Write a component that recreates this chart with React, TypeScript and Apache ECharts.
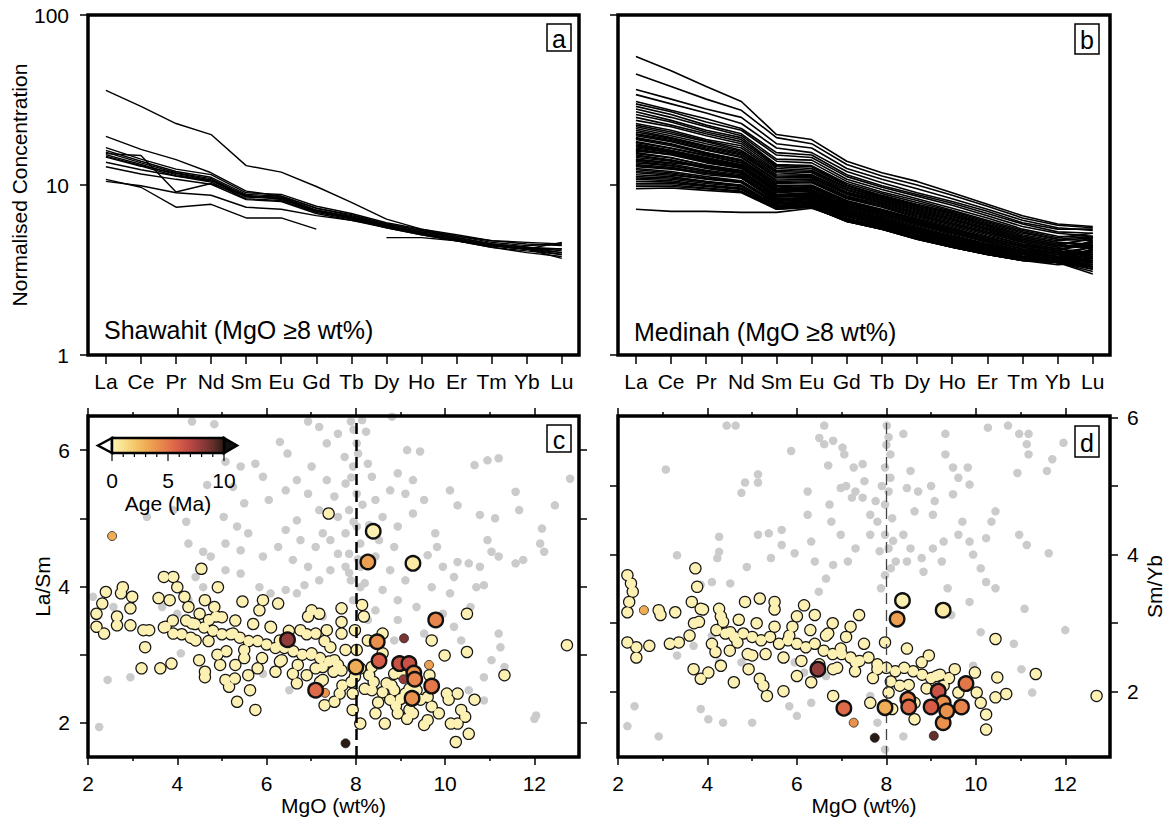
import React, { useEffect, useRef } from 'react';
import * as echarts from 'echarts';

const FONT = 'Liberation Sans';
const REE = ['La', 'Ce', 'Pr', 'Nd', 'Sm', 'Eu', 'Gd', 'Tb', 'Dy', 'Ho', 'Er', 'Tm', 'Yb', 'Lu'];
const MGO_MAJOR = [2, 4, 6, 8, 10, 12];
const MGO_MINOR = [3, 5, 7, 9, 11];
const LASM_TICKS = [2, 3, 4, 5, 6];
const LASM_LABELS = [2, 4, 6];
const SMYB_LEFT_TICKS = [2, 3, 4, 5];
const SMYB_RIGHT_TICKS = [2, 3, 4, 5, 6];
const SMYB_LABELS = [2, 4, 6];
const AGE_TICKS = [0, 1, 2, 3, 4, 5, 6, 7, 8, 9, 10];
const AGE_LABELS = [0, 5, 10];
const AGE_COLORS = ['#fdf4b8', '#f9e08e', '#f4c86a', '#efad55', '#ea924d', '#e4774a', '#d65c48', '#ba4744', '#913b3a', '#64302b', '#2a1a14'];
const MGO_CUT = 8;

// Panel a: Shawahit REE patterns (normalised)
const shawahit: (number | null)[][] = [
  [36, 29, 23, 19.8, 13, 11.9, 9.8, 7.9, 6.3, 5.5, 5.0, 4.7, 4.6, 4.5],
  [19.3, 16.2, 14.1, 11.8, 9.2, 8.6, 7.3, 6.6, 5.9, 5.4, 4.9, 4.5, 4.3, 4.1],
  [16.6, 14.2, 12.4, 11.5, 9.0, 8.8, 7.5, 6.8, 6.0, 5.5, 5.1, 4.7, 4.5, 4.4],
  [16.0, 13.8, 12.0, 11.1, 8.8, 8.6, 7.3, 6.7, 5.9, 5.4, 5.0, 4.6, 4.4, 4.5],
  [15.6, 13.5, 11.8, 10.9, 8.6, 8.4, 7.1, 6.5, 5.8, 5.3, 4.9, 4.5, 4.3, 4.2],
  [15.1, 13.2, 11.5, 10.6, 8.5, 8.3, 7.0, 6.4, 5.7, 5.2, 4.8, 4.4, 4.2, 4.0],
  [14.6, 12.9, 11.3, 10.4, 8.3, 8.1, 6.9, 6.3, 5.6, 5.1, 4.7, 4.3, 4.1, 3.9],
  [15.3, 14.9, 9.1, 10.2, 8.6, 8.5, 7.1, 6.5, 5.8, 5.2, 4.7, 4.3, 4.0, 3.8],
  [13.6, 12.3, 11.3, 10.6, 8.7, 8.2, 7.0, 6.4, 5.7, 5.2, 4.8, 4.4, 4.2, 3.7],
  [12.8, 11.6, 10.8, 10.1, 8.2, 8.0, 6.8, 6.2, 5.6, 5.1, 4.7, 4.4, 4.2, 4.2],
  [10.8, 9.7, 7.4, 7.7, 6.4, 6.4, 5.5, null, null, null, null, null, null, null],
  [10.5, 9.9, 9.0, 8.7, 7.4, 7.2, 6.6, 6.2, 5.7, 5.3, 4.9, 4.5, 4.3, 4.0],
  [null, null, null, null, null, null, null, null, 4.9, 4.9, 4.7, 4.4, 4.2, 3.9],
  [14.8, 13.0, 11.7, 10.7, 8.6, 8.4, 7.1, 6.4, 5.7, 5.2, 4.8, 4.4, 4.2, 4.6],
];

// Panel b: Medinah REE patterns (normalised)
const medinah: number[][] = [
  [57, 47, 38, 31, 19.8, 18.5, 13.8, 11.8, 10.5, 9.0, 7.7, 6.6, 5.9, 5.7],
  [45, 38, 32, 27.5, 19, 17.5, 13.2, 11.3, 10.0, 8.7, 7.5, 6.4, 5.8, 5.6],
  [36.5, 32, 28, 25, 17.5, 16.5, 12.5, 10.8, 9.5, 8.3, 7.2, 6.2, 5.6, 5.4],
  [34, 30, 26.5, 23, 16.5, 15.5, 12.0, 10.3, 9.0, 8.0, 7.0, 6.0, 5.5, 5.5],
  [31, 27.5, 24.5, 21.5, 15.5, 15, 11.5, 9.9, 8.8, 7.8, 6.8, 5.9, 5.3, 5.2],
  [30, 27, 23.5, 21, 15, 14.5, 11.2, 9.7, 8.6, 7.6, 6.6, 5.7, 5.2, 5.0],
  [29, 26, 22.5, 20, 14.2, 14, 10.8, 9.4, 8.3, 7.3, 6.4, 5.5, 5.0, 4.9],
  [28, 25, 22, 19.5, 13.8, 13.5, 10.5, 9.1, 8.1, 7.1, 6.2, 5.4, 4.9, 5.2],
  [27, 24, 21, 19, 13.2, 13, 10.2, 8.9, 7.9, 7.0, 6.1, 5.3, 4.8, 4.7],
  [25, 22.5, 20, 18, 12.8, 12.5, 9.9, 8.6, 7.6, 6.8, 5.9, 5.1, 4.7, 4.9],
  [23, 21, 18.5, 17, 12.2, 12, 9.6, 8.4, 7.4, 6.6, 5.8, 5.0, 4.6, 4.4],
  [22, 20, 18, 16, 11.8, 11.5, 9.3, 8.2, 7.2, 6.4, 5.6, 4.9, 4.5, 4.8],
  [21, 19, 17, 15.5, 11.3, 11.2, 9.0, 8.0, 7.0, 6.2, 5.5, 4.8, 4.4, 4.3],
  [20, 18.5, 16.5, 15, 11, 11, 8.8, 7.8, 6.8, 6.0, 5.3, 4.7, 4.3, 4.6],
  [19.5, 18, 16, 14.5, 10.5, 10.6, 8.5, 7.6, 6.6, 5.9, 5.2, 4.6, 4.2, 4.0],
  [19, 17.5, 15.5, 14, 10.2, 10.3, 8.3, 7.4, 6.4, 5.7, 5.0, 4.5, 4.2, 4.5],
  [18, 16.5, 15, 13.5, 9.9, 10, 8.1, 7.2, 6.3, 5.6, 4.9, 4.4, 4.1, 3.8],
  [17.5, 16, 14.5, 13.2, 9.6, 9.8, 7.9, 7.0, 6.1, 5.4, 4.8, 4.3, 4.0, 4.3],
  [17, 15.8, 14, 13, 9.4, 9.6, 7.7, 6.9, 6.0, 5.3, 4.7, 4.2, 3.9, 3.6],
  [16.5, 15.5, 14, 12.8, 9.2, 9.4, 7.6, 6.8, 5.9, 5.2, 4.6, 4.1, 3.9, 4.1],
  [16, 15, 13.5, 12.5, 9.0, 9.2, 7.4, 6.6, 5.8, 5.1, 4.5, 4.1, 3.8, 3.5],
  [15.5, 14.5, 13, 12.2, 8.8, 9.0, 7.3, 6.5, 5.7, 5.0, 4.5, 4.0, 3.8, 4.0],
  [15, 14, 12.8, 12, 8.6, 8.8, 7.1, 6.3, 5.5, 4.9, 4.4, 4.0, 3.7, 3.3],
  [14.5, 13.8, 12.5, 11.7, 8.5, 8.6, 7.0, 6.2, 5.4, 4.8, 4.3, 3.9, 3.7, 3.9],
  [14, 13.3, 12.2, 11.5, 8.3, 8.5, 6.9, 6.1, 5.3, 4.7, 4.3, 3.9, 3.6, 3.4],
  [13.5, 13, 12, 11.2, 8.2, 8.3, 6.8, 6.0, 5.3, 4.7, 4.2, 3.8, 3.6, 3.7],
  [13, 12.5, 11.5, 11, 8.0, 8.2, 6.7, 6.0, 5.2, 4.6, 4.2, 3.8, 3.6, 3.2],
  [12.5, 12, 11.2, 10.6, 7.9, 8.0, 6.6, 5.9, 5.1, 4.6, 4.1, 3.8, 3.6, 3.5],
  [12, 11.6, 10.8, 10.3, 7.7, 7.9, 6.5, 5.8, 5.1, 4.5, 4.1, 3.7, 3.5, 3.0],
  [11.5, 11.2, 10.5, 10, 7.6, 7.8, 6.4, 5.7, 5.0, 4.5, 4.0, 3.7, 3.5, 3.6],
  [11, 10.8, 10.2, 9.8, 7.5, 7.7, 6.3, 5.6, 4.9, 4.4, 4.0, 3.7, 3.5, 3.3],
  [10.5, 10.4, 9.9, 9.5, 7.4, 7.6, 6.2, 5.6, 4.9, 4.4, 4.0, 3.7, 3.5, 3.8],
  [10, 10, 9.6, 9.2, 7.3, 7.5, 6.1, 5.5, 4.8, 4.3, 3.9, 3.6, 3.5, 3.4],
  [9.5, 9.6, 9.3, 9.0, 7.2, 7.4, 6.1, 5.5, 4.8, 4.3, 3.9, 3.6, 3.5, 3.7],
  [7.2, 7.0, 7.0, 6.9, 6.9, 7.3, 6.2, 5.8, 5.0, 4.5, 4.1, 3.8, 3.6, 4.2],
  [18.5, 17, 15.2, 13.8, 10.0, 9.9, 8.0, 7.1, 6.2, 5.5, 4.9, 4.4, 4.1, 4.7],
  [15.8, 15.2, 13.7, 12.6, 9.3, 9.1, 7.5, 6.7, 5.9, 5.2, 4.7, 4.2, 4.0, 3.9],
  [14.2, 13.5, 12.8, 11.8, 8.7, 8.7, 7.2, 6.4, 5.6, 5.0, 4.5, 4.1, 3.8, 4.4],
  [12.8, 12.4, 11.8, 11.0, 8.1, 8.4, 6.9, 6.1, 5.4, 4.8, 4.3, 3.9, 3.7, 4.1],
  [11.8, 11.4, 10.9, 10.4, 7.8, 8.1, 6.6, 5.9, 5.2, 4.6, 4.2, 3.8, 3.6, 3.4],
  [24, 22, 19.5, 17.5, 12.5, 12.2, 9.7, 8.5, 7.5, 6.7, 5.8, 5.0, 4.6, 4.5],
  [26, 23.5, 20.5, 18.5, 13, 12.8, 10.0, 8.7, 7.7, 6.9, 6.0, 5.2, 4.8, 5.0],
  [16.8, 15.6, 14.2, 12.9, 9.5, 9.3, 7.6, 6.8, 6.0, 5.3, 4.7, 4.2, 4.0, 3.5],
  [13.8, 13.0, 12.0, 11.3, 8.4, 8.2, 6.8, 6.1, 5.4, 4.8, 4.3, 3.9, 3.7, 3.3],
  [10.8, 10.6, 10.0, 9.6, 7.4, 7.5, 6.3, 5.7, 5.0, 4.4, 4.0, 3.7, 3.5, 3.1],
  [22.5, 20.5, 18.2, 16.5, 12.0, 11.8, 9.4, 8.3, 7.3, 6.5, 5.7, 4.9, 4.5, 4.2],
  [21.5, 19.5, 17.5, 15.8, 11.5, 11.4, 9.1, 8.1, 7.1, 6.3, 5.5, 4.8, 4.4, 4.9],
  [20.5, 18.8, 16.8, 15.2, 11.1, 11.1, 8.9, 7.9, 6.9, 6.1, 5.4, 4.7, 4.3, 3.7],
  [19.8, 18.2, 16.2, 14.7, 10.7, 10.8, 8.6, 7.7, 6.7, 5.9, 5.2, 4.6, 4.2, 4.4],
  [18.8, 17.3, 15.4, 14.1, 10.3, 10.4, 8.4, 7.5, 6.5, 5.8, 5.1, 4.5, 4.1, 3.9],
  [17.8, 16.4, 14.8, 13.5, 9.8, 9.9, 8.0, 7.1, 6.2, 5.5, 4.9, 4.4, 4.1, 4.6],
  [17.2, 15.9, 14.3, 13.1, 9.5, 9.7, 7.8, 7.0, 6.1, 5.4, 4.8, 4.3, 4.0, 3.7],
  [16.2, 15.2, 13.8, 12.7, 9.1, 9.3, 7.5, 6.7, 5.9, 5.2, 4.6, 4.1, 3.9, 4.3],
  [15.3, 14.4, 13.1, 12.1, 8.8, 8.9, 7.2, 6.4, 5.6, 5.0, 4.4, 4.0, 3.8, 3.6],
  [14.8, 14.0, 12.7, 11.9, 8.6, 8.7, 7.1, 6.3, 5.5, 4.9, 4.4, 4.0, 3.7, 4.2],
  [13.2, 12.7, 11.7, 11.1, 8.1, 8.3, 6.8, 6.0, 5.3, 4.7, 4.2, 3.8, 3.6, 3.9],
  [12.3, 11.8, 11.0, 10.5, 7.8, 8.0, 6.6, 5.8, 5.1, 4.6, 4.1, 3.7, 3.5, 3.3],
  [11.2, 11.0, 10.4, 9.9, 7.5, 7.7, 6.3, 5.6, 5.0, 4.4, 4.0, 3.7, 3.5, 3.9],
  [10.2, 10.2, 9.8, 9.4, 7.3, 7.5, 6.2, 5.5, 4.9, 4.3, 3.9, 3.6, 3.5, 3.2],
  [9.8, 9.8, 9.5, 9.1, 7.2, 7.4, 6.1, 5.5, 4.8, 4.3, 3.9, 3.6, 3.4, 3.5],
];

// Panel c: La/Sm vs MgO
const greyC: number[][] = [
  [4.33, 6.42], [4.83, 6.38], [6.30, 6.12], [6.47, 5.95], [6.93, 6.42], [7.18, 6.34], [7.35, 6.10], [7.6, 6.24], [7.89, 6.42], [8.14, 6.44],
  [8.23, 6.27], [8.02, 6.10], [8.81, 6.49], [9.15, 6.0], [9.44, 5.98], [10.66, 5.78], [10.95, 5.85], [11.2, 5.88], [12.8, 5.58], [12.46, 5.19],
  [11.66, 5.12], [11.58, 5.39], [10.11, 5.41], [10.28, 5.19], [10.78, 5.05], [11.12, 5.0], [12.17, 4.85], [12.13, 4.63], [12.22, 4.51], [11.75, 4.39],
  [11.58, 4.34], [11.2, 4.44], [10.95, 4.68], [11.04, 4.51], [10.78, 4.29], [10.53, 4.34], [10.28, 4.36], [10.7, 3.99], [10.87, 4.02], [9.78, 4.78],
  [9.82, 4.58], [9.61, 4.46], [9.95, 4.29], [10.2, 4.14], [9.7, 3.99], [10.11, 3.9], [10.57, 3.7], [10.2, 3.41], [11.2, 3.31], [11.24, 3.11],
  [11.04, 2.92], [11.33, 2.82], [10.87, 2.67], [12.04, 2.11], [12.0, 2.06], [10.87, 2.33], [10.53, 2.48],
  [2.44, 2.63], [2.95, 2.67], [2.25, 1.94], [2.57, 3.70], [2.11, 3.85], [3.32, 5.02], [3.91, 5.12], [4.20, 4.95], [4.25, 4.63], [4.58, 4.51],
  [4.75, 4.44], [5.04, 5.02], [5.34, 4.88], [5.08, 4.63], [4.67, 5.49], [5.08, 5.83], [5.42, 5.76], [5.75, 5.80], [5.92, 5.61], [6.05, 5.27],
  [5.50, 5.22], [5.25, 5.46], [5.59, 4.78], [5.42, 4.53], [5.92, 4.44], [6.26, 4.58], [6.43, 4.83], [6.68, 4.97], [6.76, 4.68], [6.59, 4.39],
  [6.93, 4.29], [7.1, 4.58], [7.26, 4.78], [7.18, 5.12], [6.93, 5.36], [6.68, 5.56], [6.43, 5.41], [7.01, 5.76], [7.35, 5.56], [7.52, 5.32],
  [7.60, 5.02], [7.43, 4.68], [7.60, 4.48], [7.77, 4.29], [7.43, 4.24], [7.18, 4.09], [6.85, 4.02], [6.68, 3.90], [6.43, 3.95], [6.09, 3.90],
  [5.84, 3.99], [7.94, 5.76], [7.77, 5.51], [8.02, 5.36], [7.85, 5.12], [8.02, 4.88], [7.77, 4.78], [8.1, 4.63], [7.85, 4.48], [8.1, 4.29],
  [7.89, 4.09], [8.1, 3.99], [7.94, 3.8], [8.27, 5.80], [8.36, 5.61], [8.44, 5.27], [8.77, 5.41], [8.94, 5.66], [9.11, 5.36], [9.28, 5.56],
  [8.60, 5.02], [8.94, 4.88], [9.28, 5.07], [9.53, 5.27], [8.52, 4.68], [8.86, 4.58], [8.44, 4.44], [8.77, 4.24], [9.11, 4.09], [9.28, 4.29],
  [8.6, 3.95], [8.94, 3.8], [9.36, 3.70], [8.44, 3.65], [9.95, 3.60], [8.94, 3.51], [8.27, 3.51], [9.53, 3.31], [8.86, 3.21], [10.36, 3.21],
  [4.58, 3.99], [4.25, 3.80], [4.0, 3.60], [3.66, 3.70], [5.42, 4.19], [5.08, 4.24], [4.41, 4.14], [5.92, 2.72], [6.51, 2.48], [7.26, 3.56],
  [4.08, 3.02], [7.95, 6.3], [8.05, 5.95], [7.9, 5.6], [8.15, 5.2], [7.95, 4.95], [8.05, 4.4], [7.85, 4.2], [8.2, 4.05], [7.75, 5.9], [8.3, 4.9],
];

const yellowC: number[][] = [
  [2.40, 3.92], [2.32, 3.75], [2.19, 3.60], [2.19, 3.41], [2.36, 3.31], [2.65, 3.56], [2.65, 3.43], [2.74, 3.90], [2.78, 3.99], [2.99, 3.85],
  [2.95, 3.68], [2.95, 3.43], [3.24, 3.36], [3.28, 3.11], [3.20, 2.80], [3.37, 3.36], [3.58, 3.83], [3.62, 2.80], [3.70, 4.14], [3.87, 2.87],
  [3.91, 4.14], [4.0, 3.99], [3.83, 3.80], [3.74, 3.41], [3.91, 3.31], [4.16, 3.85], [4.25, 3.70], [4.33, 3.46], [4.41, 3.21], [4.49, 2.92],
  [4.54, 4.26], [4.62, 3.80], [4.71, 3.51], [4.62, 2.75], [4.62, 2.67], [4.91, 3.99], [4.83, 3.70], [4.87, 3.56], [4.96, 2.85], [5.08, 2.63],
  [5.16, 2.53], [5.29, 2.65], [5.34, 2.31], [5.46, 3.78], [5.25, 3.31], [5.50, 3.07], [5.59, 2.70], [5.63, 2.48], [5.75, 2.19], [5.84, 3.65],
  [5.92, 3.80], [6.09, 3.41], [6.26, 3.75], [6.30, 3.21], [6.34, 2.92], [6.59, 2.72], [6.68, 2.58], [6.76, 3.36], [6.93, 3.56], [7.01, 3.65],
  [7.18, 3.60], [7.10, 3.31], [7.01, 3.02], [7.26, 2.82], [7.26, 2.63], [7.35, 3.36], [7.43, 3.11], [7.52, 2.92], [7.30, 2.26], [7.52, 2.31],
  [7.68, 3.68], [7.68, 3.48], [7.68, 3.31], [7.77, 3.07], [7.68, 2.77], [7.64, 2.43], [7.93, 2.19], [7.98, 3.36], [8.02, 3.07], [7.98, 2.68],
  [7.93, 2.43], [8.14, 3.73], [8.18, 3.56], [8.10, 1.99], [8.27, 3.21], [8.36, 2.82], [8.36, 2.48], [8.44, 2.14], [8.60, 3.31], [8.60, 3.02],
  [8.69, 2.58], [8.77, 2.34], [8.65, 1.99], [8.86, 2.72], [8.86, 2.48], [8.94, 2.14], [9.02, 2.72], [9.11, 2.43], [9.20, 2.19], [9.15, 2.06],
  [9.28, 2.14], [9.36, 2.48], [9.45, 2.34], [9.53, 1.97], [9.61, 2.04], [9.61, 2.38], [9.65, 2.70], [9.70, 3.21], [9.70, 2.24], [9.86, 2.14],
  [9.99, 2.99], [10.04, 2.43], [10.08, 2.34], [10.13, 1.99], [10.24, 1.72], [10.28, 1.99], [10.28, 2.43], [10.36, 2.19], [10.45, 2.09], [10.49, 3.04],
  [10.49, 3.60], [10.53, 1.84], [10.66, 2.34], [11.33, 2.70], [12.73, 3.14], [7.39, 5.07],
  [4.2, 3.5], [4.4, 3.45], [4.6, 3.4], [4.8, 3.35], [5.0, 3.3], [5.2, 3.3], [5.4, 3.25], [5.6, 3.2], [5.8, 3.2], [6.0, 3.15],
  [6.2, 3.1], [6.4, 3.1], [6.6, 3.05], [6.8, 3.0], [7.0, 3.0], [7.2, 2.95], [7.4, 2.9], [7.6, 2.85], [4.3, 3.25], [4.5, 3.6],
  [4.7, 3.2], [5.0, 3.55], [5.1, 3.05], [5.3, 3.5], [5.5, 2.95], [5.7, 3.45], [5.9, 2.95], [6.1, 3.4], [6.3, 2.9], [6.5, 3.35],
  [6.7, 2.85], [6.9, 3.3], [7.1, 2.8], [7.3, 3.2], [7.5, 2.75], [4.1, 3.3], [3.9, 3.5], [3.7, 3.4], [4.9, 3.0], [5.3, 2.85],
  [5.8, 2.8], [6.2, 2.75], [6.9, 2.7], [7.2, 2.6], [8.2, 2.5], [8.4, 2.6], [8.6, 2.45], [8.8, 2.55], [9.0, 2.35], [8.5, 2.3],
  [8.9, 2.25], [9.2, 2.5], [8.3, 2.7], [8.1, 2.8], [7.9, 2.6], [7.7, 2.55],
];

// [MgO, La/Sm, age Ma]
const agedLargeC: number[][] = [
  [8.39, 4.81, 0.2], [8.27, 4.36, 3.5], [9.28, 4.34, 0.5], [9.79, 3.51, 4.5], [6.47, 3.22, 8], [8.48, 3.19, 4], [8.52, 2.91, 6],
  [8.98, 2.87, 6.5], [9.19, 2.87, 6.5], [9.30, 2.73, 4], [9.32, 2.64, 4.5], [8.0, 2.82, 3], [7.10, 2.48, 5.5], [9.70, 2.54, 5], [9.26, 2.36, 4],
];
const agedSmallC: number[][] = [
  [2.54, 4.74, 3], [9.08, 3.24, 8.5], [9.64, 2.85, 3.5], [9.07, 2.64, 8], [7.31, 2.44, 4], [7.77, 1.70, 10],
];

// Panel d: Sm/Yb vs MgO
const greyD: number[][] = [
  [4.43, 5.88], [4.63, 5.88], [3.07, 5.24], [5.13, 5.17], [5.13, 5.05], [4.84, 5.05], [4.76, 4.90], [4.26, 4.26], [4.10, 3.60], [4.26, 4.04],
  [3.32, 3.99], [3.85, 3.56], [4.22, 3.95], [4.51, 3.58], [4.88, 3.82], [5.13, 4.29], [5.37, 4.31], [5.66, 4.36], [5.42, 3.95], [5.66, 4.14],
  [5.87, 5.51], [6.24, 4.92], [6.24, 4.58], [6.32, 4.19], [5.95, 4.02], [6.40, 3.90], [6.61, 5.88], [6.61, 5.61], [6.81, 5.66], [7.02, 5.56],
  [7.06, 5.46], [7.27, 5.27], [7.47, 5.32], [7.51, 5.07], [7.31, 4.92], [7.23, 4.83], [7.47, 4.83], [7.76, 4.78], [7.64, 4.58], [7.80, 4.48],
  [7.64, 4.29], [7.31, 4.09], [7.14, 3.90], [6.81, 3.85], [6.65, 3.65], [6.49, 3.46], [6.98, 4.97], [6.73, 4.73], [6.77, 4.48], [6.98, 4.29],
  [8.01, 5.88], [8.05, 5.71], [8.09, 5.46], [7.97, 5.27], [8.09, 5.12], [8.05, 4.92], [7.97, 4.73], [8.13, 4.53], [7.97, 4.29], [8.05, 4.09],
  [8.21, 3.90], [7.97, 3.70], [7.88, 3.51], [8.38, 5.76], [8.54, 5.22], [8.46, 4.97], [8.71, 4.92], [8.63, 4.63], [8.38, 4.29], [8.54, 4.09],
  [8.46, 3.90], [8.79, 3.95], [8.83, 3.75], [9.00, 5.00], [9.08, 4.78], [9.04, 4.58], [9.28, 4.19], [9.04, 4.09], [9.24, 3.90], [9.37, 3.51],
  [9.45, 3.12], [9.32, 5.76], [9.32, 5.46], [9.49, 5.27], [9.49, 4.88], [9.61, 5.12], [9.82, 5.27], [9.86, 5.02], [9.70, 4.48], [9.61, 4.29],
  [9.86, 4.19], [9.94, 4.00], [10.11, 3.80], [10.23, 4.24], [10.44, 4.63], [10.35, 4.48], [10.27, 5.85], [10.72, 5.88], [10.97, 5.76], [11.14, 5.61],
  [11.18, 5.46], [10.93, 5.19], [11.59, 5.22], [11.71, 5.39], [11.18, 5.76], [11.96, 5.63], [10.97, 4.29], [11.14, 4.14], [11.63, 4.02], [11.09, 3.21],
  [10.85, 2.70], [11.02, 2.33], [11.26, 1.99], [12.0, 2.90], [10.44, 3.51], [10.23, 3.60], [9.86, 3.31], [10.11, 2.87], [9.94, 2.38], [2.21, 1.50],
  [2.37, 1.79], [2.91, 1.35], [4.02, 1.60], [3.85, 1.75], [5.0, 1.55], [4.35, 1.55], [5.33, 1.94], [5.83, 1.79], [6.0, 1.65], [6.32, 1.84],
  [5.95, 2.43], [6.16, 2.28], [3.32, 2.53], [3.69, 2.67], [4.10, 2.82], [4.26, 2.43], [4.76, 2.43], [6.65, 2.23], [7.80, 1.55], [7.97, 1.16],
  [7.64, 1.94], [8.38, 1.35], [8.0, 5.6], [7.9, 5.0], [8.15, 4.2], [7.85, 4.05], [8.1, 3.8], [6.5, 5.7], [6.7, 5.3], [7.1, 5.0],
];

const yellowD: number[][] = [
  [2.21, 3.70], [2.29, 3.58], [2.33, 3.46], [2.25, 3.31], [2.21, 3.16], [2.21, 2.72], [2.41, 2.65], [2.70, 2.67], [2.41, 2.50], [2.91, 3.19],
  [2.95, 3.12], [3.28, 3.16], [3.16, 2.70], [3.36, 2.72], [3.60, 2.82], [3.73, 3.80], [3.77, 3.53], [3.65, 3.31], [3.85, 3.21], [3.81, 3.02],
  [3.69, 2.33], [3.85, 2.19], [4.02, 2.28], [4.18, 2.58], [4.30, 2.38], [4.59, 2.14], [4.26, 3.21], [4.35, 3.02], [4.51, 2.87], [4.67, 2.72],
  [4.84, 3.31], [5.0, 2.53], [4.92, 2.33], [5.17, 3.36], [5.17, 2.19], [5.25, 2.09], [5.33, 1.94], [5.50, 3.31], [5.70, 2.01], [5.83, 2.82],
  [6.0, 2.23], [6.32, 2.14], [6.16, 3.26], [6.40, 3.12], [6.65, 2.82], [6.81, 1.94], [6.98, 2.63], [7.39, 3.12], [7.31, 2.43], [7.64, 1.84],
  [7.80, 2.33], [7.97, 2.72], [8.05, 1.99], [8.13, 1.75], [8.30, 2.09], [8.46, 2.63], [8.63, 1.60], [8.79, 2.43], [8.95, 2.53], [9.12, 2.23],
  [9.28, 2.09], [9.53, 2.33], [9.61, 1.99], [9.98, 2.28], [10.02, 1.99], [10.11, 1.84], [10.23, 1.67], [10.23, 1.45], [10.44, 2.77], [10.48, 2.21],
  [10.44, 1.92], [10.68, 1.97], [11.34, 2.26], [12.70, 1.94], [8.63, 1.84], [6.81, 2.33],
  [4.2, 2.9], [4.4, 2.85], [4.6, 2.8], [4.8, 2.85], [5.0, 2.8], [5.2, 2.75], [5.4, 2.8], [5.6, 2.7], [5.8, 2.75], [6.0, 2.7],
  [6.2, 2.65], [6.4, 2.7], [6.6, 2.6], [6.8, 2.55], [7.0, 2.55], [7.2, 2.5], [7.4, 2.45], [7.6, 2.5], [7.8, 2.4], [8.0, 2.35],
  [8.2, 2.3], [8.4, 2.35], [8.6, 2.3], [8.8, 2.25], [9.0, 2.2], [9.2, 2.25], [9.4, 2.2], [4.3, 3.1], [4.7, 3.05], [5.1, 3.0],
  [5.5, 2.95], [5.9, 2.95], [6.3, 2.9], [6.7, 2.85], [7.1, 2.8], [7.5, 2.7], [4.5, 2.6], [4.9, 2.55], [5.3, 2.55], [5.7, 2.5],
  [6.1, 2.45], [6.5, 2.4], [6.9, 2.35], [7.3, 2.3], [7.7, 2.2], [8.1, 2.15], [8.5, 2.1], [8.9, 2.05], [3.9, 3.2], [3.7, 3.0],
  [4.1, 2.7], [5.5, 3.2], [6.0, 3.1], [6.8, 3.0], [7.2, 2.95],
];

// [MgO, Sm/Yb, age Ma]
const agedLargeD: number[][] = [
  [8.36, 3.33, 0.2], [9.27, 3.19, 0.5], [8.24, 3.06, 3.5], [6.47, 2.33, 8], [9.78, 2.12, 5], [9.16, 2.01, 6.5], [9.27, 1.84, 4],
  [8.48, 1.89, 4.5], [8.50, 1.78, 5.5], [9.00, 1.78, 6], [9.68, 1.78, 4.5], [7.97, 1.77, 3], [7.05, 1.76, 5.5], [9.27, 1.55, 4], [9.35, 1.72, 4],
];
const agedSmallD: number[][] = [
  [2.58, 3.19, 3], [7.27, 1.55, 4], [7.74, 1.33, 10], [9.06, 1.36, 9],
];

const BLACK = '#000';
const TICK = { color: BLACK, width: 1.5 };
const FS = 21;
const LABEL = { color: BLACK, fontSize: FS, fontFamily: FONT };
const NO_LINE = { show: false, onZero: false };

function toLine(vals: (number | null)[]) {
  const out: number[][] = [];
  vals.forEach((v, i) => { if (v != null) out.push([i, v]); });
  return out;
}

function reeX(gridIndex: number) {
  const idx = REE.map((_, i) => i);
  return {
    gridIndex, type: 'value', min: -0.51, max: 13.49, position: 'bottom',
    axisLine: NO_LINE, splitLine: { show: false },
    axisTick: { show: true, customValues: idx, length: 9, lineStyle: TICK },
    axisLabel: { ...LABEL, customValues: idx, margin: 16, formatter: (v: number) => REE[Math.round(v)] ?? '' },
  };
}
function logY(gridIndex: number, labels: boolean, name?: string) {
  return {
    gridIndex, type: 'log', logBase: 10, min: 1, max: 100, position: 'left',
    axisLine: NO_LINE, splitLine: { show: false }, minorTick: { show: false },
    axisTick: { show: true, length: 8, lineStyle: TICK },
    axisLabel: { ...LABEL, show: labels, margin: 19 },
    name, nameLocation: 'middle', nameGap: 57,
    nameTextStyle: { color: BLACK, fontSize: FS, fontFamily: FONT },
  };
}
function mgoX(gridIndex: number, position: string, ticks: number[], len: number, labels: boolean) {
  return {
    gridIndex, type: 'value', min: 2, max: 13, position,
    axisLine: NO_LINE, splitLine: { show: false },
    axisTick: { show: true, customValues: ticks, length: len, lineStyle: TICK },
    axisLabel: { ...LABEL, show: labels, customValues: ticks, margin: 16 },
    name: labels ? 'MgO (wt%)' : undefined, nameLocation: 'middle', nameGap: 38,
    nameTextStyle: { color: BLACK, fontSize: FS, fontFamily: FONT },
  };
}
function ratioY(gridIndex: number, position: string, min: number, max: number, ticks: number[], labels: number[] | null, name?: string, nameGap = 30, margin = 15) {
  return {
    gridIndex, type: 'value', min, max, position,
    axisLine: NO_LINE, splitLine: { show: false },
    axisTick: { show: true, customValues: ticks, length: 8, lineStyle: TICK },
    axisLabel: { ...LABEL, show: !!labels, customValues: labels ?? ticks, margin },
    name, nameLocation: 'middle', nameGap,
    nameTextStyle: { color: BLACK, fontSize: FS, fontFamily: FONT },
  };
}

const FRAMES = [
  { x: 88, y: 15, w: 491, h: 340 },
  { x: 618, y: 15, w: 492, h: 340 },
  { x: 88, y: 416, w: 491, h: 341 },
  { x: 618, y: 416, w: 492, h: 341 },
];
const PANEL_TAGS = [
  { t: 'a', x: 547, y: 24, w: 24, h: 27 },
  { t: 'b', x: 1075, y: 24, w: 24, h: 30 },
  { t: 'c', x: 547, y: 425, w: 24, h: 27 },
  { t: 'd', x: 1075, y: 426, w: 24, h: 31 },
];

function buildOption() {
  const series: any[] = [];
  shawahit.forEach((row) => series.push({
    type: 'line', xAxisIndex: 0, yAxisIndex: 0, data: toLine(row), symbol: 'none', silent: true,
    lineStyle: { color: BLACK, width: 1.4 }, z: 2,
  }));
  medinah.forEach((row) => series.push({
    type: 'line', xAxisIndex: 1, yAxisIndex: 1, data: toLine(row), symbol: 'none', silent: true,
    lineStyle: { color: BLACK, width: 1.6 }, z: 2,
  }));

  const colored: number[] = [];
  const scatterPanel = (xi: number, yi: number, grey: number[][], yellow: number[][], large: number[][], small: number[][], dash: any) => {
    series.push({
      type: 'scatter', xAxisIndex: xi, yAxisIndex: yi, data: grey, symbolSize: 8.5, silent: true, z: 2,
      itemStyle: { color: '#cbcbcb', opacity: 1 },
      markLine: { silent: true, symbol: ['none', 'none'], label: { show: false }, lineStyle: dash, data: [{ xAxis: MGO_CUT }] },
    });
    series.push({ type: 'scatter', xAxisIndex: xi, yAxisIndex: yi, data: yellow, symbolSize: 12.5, silent: true, z: 3, itemStyle: { color: '#151515', opacity: 1 } });
    series.push({ type: 'scatter', xAxisIndex: xi, yAxisIndex: yi, data: yellow, symbolSize: 10, silent: true, z: 4, itemStyle: { color: '#fcf0b2', opacity: 1 } });
    colored.push(series.length);
    series.push({ type: 'scatter', xAxisIndex: xi, yAxisIndex: yi, data: small, symbolSize: 9, silent: true, z: 5, itemStyle: { borderColor: '#222', borderWidth: 0.8, opacity: 1 } });
    colored.push(series.length);
    series.push({ type: 'scatter', xAxisIndex: xi, yAxisIndex: yi, data: large, symbolSize: 14.5, silent: true, z: 6, itemStyle: { borderColor: '#111', borderWidth: 2.4, opacity: 1 } });
  };
  scatterPanel(2, 2, greyC, yellowC, agedLargeC, agedSmallC, { color: BLACK, width: 2.5, type: [11, 6] });
  scatterPanel(6, 4, greyD, yellowD, agedLargeD, agedSmallD, { color: '#444', width: 1.3, type: [11, 6] });

  const graphic: any[] = [];
  FRAMES.forEach((f) => graphic.push({
    type: 'rect', silent: true, z: 100, shape: { x: f.x, y: f.y, width: f.w, height: f.h },
    style: { fill: 'none', stroke: BLACK, lineWidth: 3.5 },
  }));
  PANEL_TAGS.forEach((p) => {
    graphic.push({ type: 'rect', silent: true, z: 101, shape: { x: p.x, y: p.y, width: p.w, height: p.h }, style: { fill: '#fff', stroke: BLACK, lineWidth: 1.5 } });
    graphic.push({ type: 'text', silent: true, z: 102, x: p.x + p.w / 2, y: p.y + p.h / 2 + 1, style: { text: p.t, fontSize: 25, fontFamily: FONT, fill: BLACK, align: 'center', verticalAlign: 'middle' } });
  });
  graphic.push({ type: 'text', silent: true, z: 102, x: 104, y: 330, style: { text: 'Shawahit (MgO ≥8 wt%)', fontSize: 25, fontFamily: FONT, fill: BLACK, align: 'left', verticalAlign: 'middle' } });
  graphic.push({ type: 'text', silent: true, z: 102, x: 634, y: 332, style: { text: 'Medinah (MgO ≥8 wt%)', fontSize: 25, fontFamily: FONT, fill: BLACK, align: 'left', verticalAlign: 'middle' } });

  // colour bar (Age, Ma)
  const cbX = 112, cbW = 112, cbY = 438, cbH = 15;
  const stops = AGE_COLORS.map((c, i) => ({ offset: i / (AGE_COLORS.length - 1), color: c }));
  graphic.push({ type: 'polygon', silent: true, z: 110, shape: { points: [[cbX - 14, cbY + cbH / 2], [cbX, cbY], [cbX, cbY + cbH]] }, style: { fill: '#fff', stroke: BLACK, lineWidth: 2.5 } });
  graphic.push({ type: 'polygon', silent: true, z: 110, shape: { points: [[cbX + cbW, cbY], [cbX + cbW + 13, cbY + cbH / 2], [cbX + cbW, cbY + cbH]] }, style: { fill: '#111', stroke: BLACK, lineWidth: 2.5 } });
  graphic.push({ type: 'rect', silent: true, z: 111, shape: { x: cbX, y: cbY, width: cbW, height: cbH }, style: { fill: new echarts.graphic.LinearGradient(0, 0, 1, 0, stops), stroke: BLACK, lineWidth: 2.5 } });
  AGE_TICKS.forEach((a) => {
    const x = cbX + (a / 10) * cbW;
    graphic.push({ type: 'line', silent: true, z: 111, shape: { x1: x, y1: cbY + cbH, x2: x, y2: cbY + cbH + (a % 5 === 0 ? 8 : 4) }, style: { stroke: BLACK, lineWidth: 1.2 } });
  });
  AGE_LABELS.forEach((a) => {
    graphic.push({ type: 'text', silent: true, z: 111, x: cbX + (a / 10) * cbW, y: 480, style: { text: String(a), fontSize: FS, fontFamily: FONT, fill: BLACK, align: 'center', verticalAlign: 'middle' } });
  });
  graphic.push({ type: 'text', silent: true, z: 111, x: 168, y: 503, style: { text: 'Age (Ma)', fontSize: FS, fontFamily: FONT, fill: BLACK, align: 'center', verticalAlign: 'middle' } });

  return {
    animation: false,
    backgroundColor: '#fff',
    textStyle: { fontFamily: FONT },
    grid: FRAMES.map((f) => ({ left: f.x, top: f.y, width: f.w, height: f.h, containLabel: false })),
    xAxis: [
      reeX(0), reeX(1),
      mgoX(2, 'bottom', MGO_MAJOR, 8, true), mgoX(2, 'bottom', MGO_MINOR, 4, false),
      mgoX(2, 'top', MGO_MAJOR, 8, false), mgoX(2, 'top', MGO_MINOR, 4, false),
      mgoX(3, 'bottom', MGO_MAJOR, 8, true), mgoX(3, 'bottom', MGO_MINOR, 4, false),
      mgoX(3, 'top', MGO_MAJOR, 8, false), mgoX(3, 'top', MGO_MINOR, 4, false),
    ],
    yAxis: [
      logY(0, true, 'Normalised Concentration'), logY(1, false),
      ratioY(2, 'left', 1.5, 6.5, LASM_TICKS, LASM_LABELS, 'La/Sm', 35, 18),
      ratioY(2, 'right', 1.5, 6.5, LASM_TICKS, null),
      ratioY(3, 'left', 1.05, 6.02, SMYB_LEFT_TICKS, null),
      ratioY(3, 'right', 1.05, 6.02, SMYB_RIGHT_TICKS, SMYB_LABELS, 'Sm/Yb', 34, 17),
    ],
    visualMap: [{
      type: 'continuous', show: false, min: 0, max: 10, dimension: 2, seriesIndex: colored,
      inRange: { color: AGE_COLORS },
    }],
    series,
    graphic,
  };
}

export default function App() {
  const ref = useRef<HTMLDivElement>(null);
  useEffect(() => {
    if (!ref.current) return;
    const chart = echarts.init(ref.current, undefined, { renderer: 'svg' });
    chart.setOption(buildOption() as any);
    return () => chart.dispose();
  }, []);
  return <div ref={ref} style={{ position: 'absolute', left: 0, top: 0, width: 1169, height: 819 }} />;
}
